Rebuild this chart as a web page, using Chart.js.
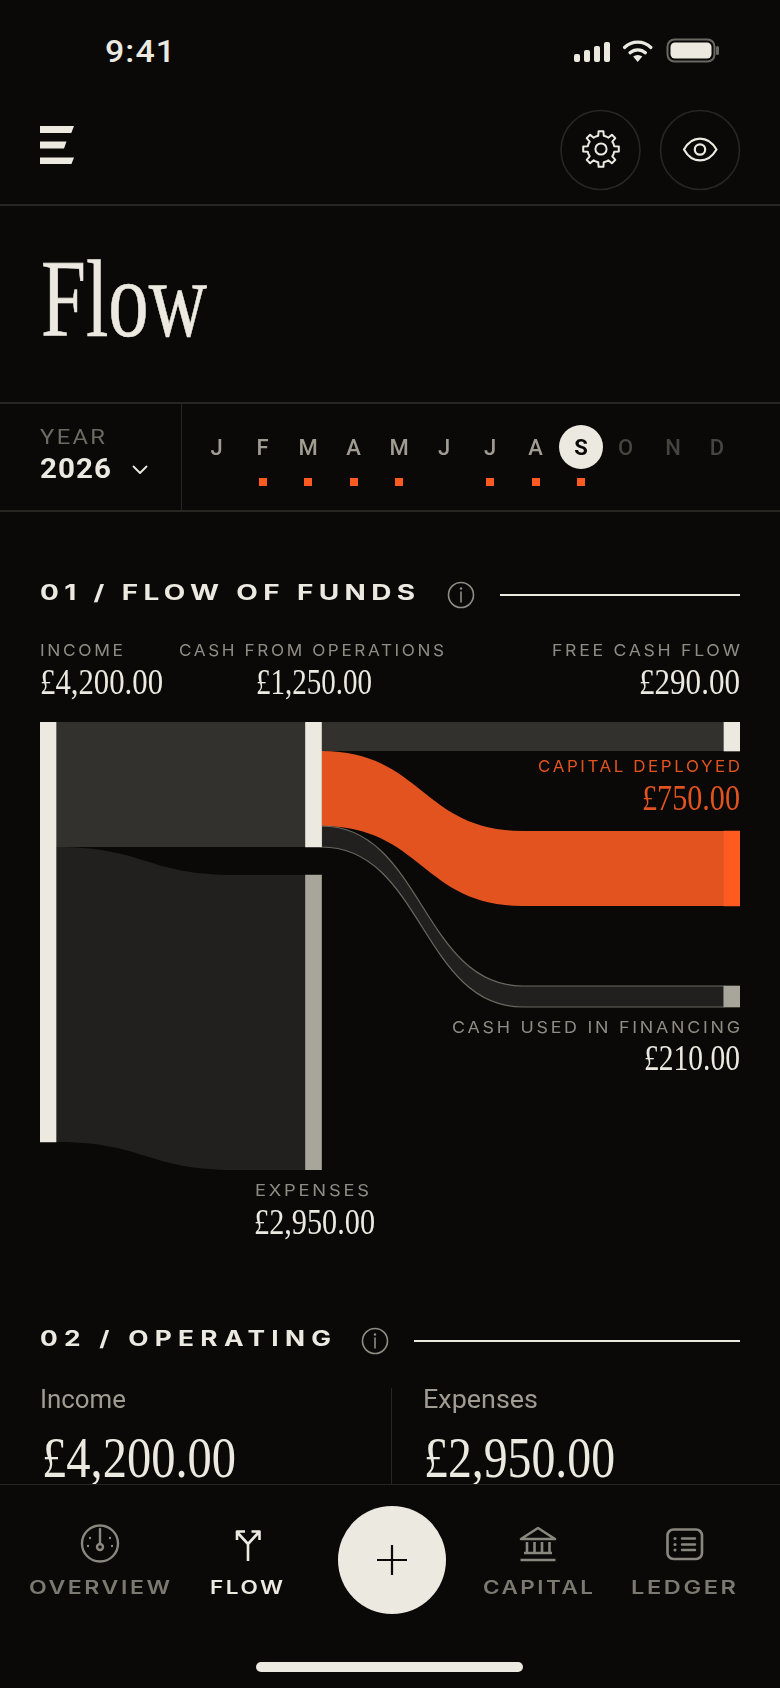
<!DOCTYPE html>
<html>
<head>
<meta charset="utf-8">
<title>Flow</title>
<script src="https://cdn.jsdelivr.net/npm/chart.js@4/dist/chart.umd.min.js"></script>
<style>
  html, body { margin: 0; padding: 0; background: #0a0908; }
  #app { position: relative; width: 780px; height: 1688px; overflow: hidden; background: #0a0908; }
  #app span { position: absolute; white-space: nowrap; line-height: 0; transform-origin: left center; }
  #app svg { position: absolute; left: 0; top: 0; }
  .rule { position: absolute; background: #272623; }
  #flowChartBox { position: absolute; left: 40px; top: 722px; width: 700px; height: 448px; }
  #navPanel { position: absolute; left: 0; top: 1484px; width: 780px; height: 204px; background: #0a0908; border-top: 1.5px solid #272623; box-sizing: border-box; }
</style>
</head>
<body>
<div id="app">
  <div id="flowChartBox"><canvas id="flowChart"></canvas></div>
</div>
<script>
// Data
const months = ['J', 'F', 'M', 'A', 'M', 'J', 'J', 'A', 'S', 'O', 'N', 'D'];
const monthsWithEntries = [1, 2, 3, 4, 6, 7, 8];
const selectedMonth = 8;
const flowNames = ['INCOME', 'CASH FROM OPERATIONS', 'EXPENSES', 'FREE CASH FLOW', 'CAPITAL DEPLOYED', 'CASH USED IN FINANCING'];
const flowValues = [4200, 1250, 2950, 290, 750, 210];
const navItems = ['OVERVIEW', 'FLOW', 'CAPITAL', 'LEDGER'];

const CREAM = '#ece9e0';
const ORANGE = '#ff5a1f';
const ORANGE_LINK = '#e2531f';
const STONE = '#a8a59a';
const LABEL = '#8f8c83';
const DARK_LINK = '#32312d';
const DARKER_LINK = '#21201e';

const app = document.getElementById('app');
const serif = '"Liberation Serif"';
const sans = 'Roboto';
const wide = 'Inter';

const money = v => '£' + v.toLocaleString('en-GB', { minimumFractionDigits: 2, maximumFractionDigits: 2 });

const measureCtx = document.createElement('canvas').getContext('2d');

// places a text by its baseline and squeezes it to the width seen in the picture
function put(text, o) {
  const el = document.createElement('span');
  const ls = o.ls || 0;
  const weight = o.weight || 400;
  el.textContent = text;
  el.style.font = `${weight} ${o.size}px ${o.font}`;
  el.style.lineHeight = '0';
  el.style.letterSpacing = ls + 'px';
  el.style.color = o.color || CREAM;
  if (o.stroke) el.style.webkitTextStroke = o.stroke + 'px ' + (o.color || CREAM);
  app.appendChild(el);
  measureCtx.font = `${weight} ${o.size}px ${o.font}`;
  const m = measureCtx.measureText('H');
  el.style.top = (o.base - (m.fontBoundingBoxAscent - m.fontBoundingBoxDescent) / 2) + 'px';
  const natural = el.getBoundingClientRect().width - ls;
  const width = o.w || natural;
  const align = o.align || 'left';
  const left = align === 'left' ? o.x : align === 'right' ? o.x - width : o.x - width / 2;
  el.style.left = left + 'px';
  el.style.transform = `scaleX(${width / natural})`;
  return el;
}

function rule(x, y, w, h, color) {
  const d = document.createElement('div');
  d.className = 'rule';
  d.style.cssText = `left:${x}px;top:${y}px;width:${w}px;height:${h}px;` + (color ? `background:${color};` : '');
  app.appendChild(d);
}

function svg(markup) {
  const holder = document.createElement('div');
  holder.innerHTML = `<svg width="780" height="1688" viewBox="0 0 780 1688" fill="none" stroke-linecap="round" stroke-linejoin="round">${markup}</svg>`;
  app.appendChild(holder.firstChild);
}

function gearPath(cx, cy, outer, inner, teeth) {
  const pts = [];
  const step = Math.PI * 2 / teeth;
  for (let i = 0; i < teeth; i++) {
    const a = i * step - Math.PI / 2;
    [[-0.5, inner], [-0.27, inner], [-0.17, outer], [0.17, outer], [0.27, inner]].forEach(p => {
      const ang = a + p[0] * step;
      pts.push((cx + Math.cos(ang) * p[1]).toFixed(1) + ' ' + (cy + Math.sin(ang) * p[1]).toFixed(1));
    });
  }
  return 'M' + pts.join('L') + 'Z';
}

function infoIcon(cx, cy) {
  return `<circle cx="${cx}" cy="${cy}" r="12.5" stroke="${LABEL}" stroke-width="1.6"/>
    <path d="M${cx} ${cy - 3}V${cy + 7}" stroke="${LABEL}" stroke-width="1.6"/>
    <circle cx="${cx}" cy="${cy - 6.5}" r="1.2" fill="${LABEL}"/>`;
}

// status bar
put('9:41', { x: 104.5, base: 62, size: 31, font: sans, weight: 500, w: 70, ls: 1 });
svg(`<g fill="${CREAM}">
    <rect x="574" y="54" width="6" height="8" rx="2"/>
    <rect x="584" y="50" width="6" height="12" rx="2"/>
    <rect x="594" y="46" width="6" height="16" rx="2"/>
    <rect x="604" y="42" width="6" height="20" rx="2"/>
    <path d="M637.7 62l-4.6-5.4a7 7 0 0 1 9.2 0z"/>
  </g>
  <path d="M624.5 47.5a19 19 0 0 1 26.4 0M630 52.8a11.5 11.5 0 0 1 15.4 0" stroke="${CREAM}" stroke-width="3.2"/>
  <rect x="667.5" y="39.5" width="47" height="22" rx="7" stroke="#6a6860" stroke-width="2"/>
  <rect x="670.5" y="42.5" width="41" height="16" rx="4.5" fill="${CREAM}"/>
  <rect x="716" y="46" width="3" height="9" rx="1.5" fill="#6a6860"/>`);

// top bar
svg(`<g fill="${CREAM}">
    <path d="M40 126H74L71.3 133H40Z"/>
    <path d="M40 141.5H66.5L64 148.5H40Z"/>
    <path d="M40 157.5H74L71.5 164H40Z"/>
  </g>
  <circle cx="600.5" cy="150" r="39.5" stroke="#272623" stroke-width="1.6"/>
  <circle cx="700" cy="150" r="39.5" stroke="#272623" stroke-width="1.6"/>
  <path d="${gearPath(601, 149, 18, 13.5, 8)}" stroke="${CREAM}" stroke-width="2"/>
  <circle cx="601" cy="149" r="5.6" stroke="${CREAM}" stroke-width="2"/>
  <path d="M684 149.5C692 135 708 135 716.5 149.5C708 164 692 164 684 149.5Z" stroke="${CREAM}" stroke-width="2.2"/>
  <circle cx="700" cy="149.5" r="5.2" stroke="${CREAM}" stroke-width="2.2"/>`);
rule(0, 204, 780, 1.5);

put('Flow', { x: 41, base: 336, size: 110, font: serif, w: 166, stroke: 0.6 });
rule(0, 402, 780, 1.5);

// year and month picker
rule(181, 403, 1.2, 107);
put('YEAR', { x: 40, base: 444, size: 20, font: sans, color: '#6d6a63', w: 65, ls: 2 });
put('2026', { x: 40, base: 478, size: 28, font: sans, weight: 700, w: 71, ls: 1 });
svg(`<path d="M133.5 466.5L140 473L146.5 466.5" stroke="${CREAM}" stroke-width="1.8"/>`);
rule(0, 510, 780, 1.5);

const monthCentres = [216.5, 262.5, 308, 353.5, 399, 444, 490, 535.5, 581, 625.5, 673, 717];
svg(`<circle cx="${monthCentres[selectedMonth]}" cy="447" r="22" fill="${CREAM}"/>`);
months.forEach((m, i) => {
  const color = i === selectedMonth ? '#0a0908' : i > selectedMonth ? '#45443f' : '#a09c92';
  put(m, { x: monthCentres[i], base: 455.5, size: 22, font: sans, weight: i === selectedMonth ? 700 : 500, color, align: 'center' });
});
monthsWithEntries.forEach(i => rule(monthCentres[i] - 4, 478, 8, 8, ORANGE));

// section 01
put('01 / FLOW OF FUNDS', { x: 40, base: 600, size: 21, font: wide, weight: 700, w: 375, ls: 4 });
svg(infoIcon(461, 595));
rule(500, 594, 240, 2, CREAM);

function flowLabel(i, o) {
  put(flowNames[i], { x: o.x, base: o.labelBase, size: 16.5, font: wide, color: o.color || LABEL, w: o.labelW, align: o.align, ls: 2.5 });
  put(money(flowValues[i]), { x: o.valueX === undefined ? o.x : o.valueX, base: o.valueBase, size: 36, font: serif, color: o.valueColor || CREAM, w: o.valueW, align: o.align });
}
flowLabel(0, { x: 40, labelBase: 656, valueBase: 693.5, labelW: 83, valueW: 123 });
flowLabel(1, { x: 311.5, valueX: 314, labelBase: 656, valueBase: 693.5, labelW: 265, valueW: 116, align: 'center' });
flowLabel(3, { x: 740, labelBase: 656, valueBase: 693.5, labelW: 188, valueW: 101, align: 'right' });
flowLabel(4, { x: 740, labelBase: 772, valueBase: 809.5, labelW: 202, valueW: 98, align: 'right', color: ORANGE_LINK, valueColor: ORANGE_LINK });
flowLabel(5, { x: 740, labelBase: 1033, valueBase: 1069.5, labelW: 288, valueW: 96, align: 'right' });
flowLabel(2, { x: 312, valueX: 314.5, labelBase: 1196, valueBase: 1233.5, labelW: 114, valueW: 121, align: 'center' });

// section 02
put('02 / OPERATING', { x: 40, base: 1346, size: 21, font: wide, weight: 700, w: 291, ls: 5 });
svg(infoIcon(375, 1341));
rule(414, 1340, 326, 2, CREAM);
put('Income', { x: 40, base: 1408, size: 26, font: sans, color: '#a09c92', w: 86 });
put('Expenses', { x: 423, base: 1408, size: 26, font: sans, color: '#a09c92', w: 115 });
rule(390.5, 1388, 1.2, 96);
put(money(flowValues[0]), { x: 41.5, base: 1477, size: 58, font: serif, w: 194 });
put(money(flowValues[2]), { x: 424, base: 1477, size: 58, font: serif, w: 191 });

// bottom nav
const panel = document.createElement('div');
panel.id = 'navPanel';
app.appendChild(panel);
const navCentres = [99, 246, 538, 683.5];
const navWidths = [141, 73, 110, 105];
navItems.forEach((label, i) => {
  put(label, { x: navCentres[i], base: 1594, size: 18, font: wide, weight: 600, color: label === 'FLOW' ? CREAM : '#7c7970', w: navWidths[i], align: 'center', ls: 2 });
});
const navGrey = '#8a877e';
svg(`<circle cx="392" cy="1560" r="54" fill="${CREAM}"/>
  <path d="M377 1560H407M392 1545V1575" stroke="#0a0908" stroke-width="2.2" stroke-linecap="butt"/>
  <circle cx="100" cy="1543.5" r="18" stroke="${navGrey}" stroke-width="2.4"/>
  <path d="M100 1529V1544" stroke="${navGrey}" stroke-width="2.4"/>
  <circle cx="100" cy="1547" r="3" stroke="${navGrey}" stroke-width="2.4"/>
  <g fill="${navGrey}"><circle cx="90" cy="1538" r="1.2"/><circle cx="110" cy="1538" r="1.2"/><circle cx="88" cy="1546" r="1.2"/><circle cx="112" cy="1546" r="1.2"/></g>
  <path d="M248 1561V1544L237 1532M248 1544L259 1532M237 1540V1531.5H245M259.5 1540V1531.5H251.5" stroke="${CREAM}" stroke-width="2.6" stroke-linecap="butt"/>
  <path d="M521 1539L538 1528L555 1539Z" stroke="${navGrey}" stroke-width="2.6"/>
  <path d="M527 1542V1552M534.5 1542V1552M542 1542V1552M549.5 1542V1552" stroke="${navGrey}" stroke-width="2.6" stroke-linecap="butt"/>
  <path d="M524 1553H552M520.5 1560H555.5" stroke="${navGrey}" stroke-width="2.4" stroke-linecap="butt"/>
  <rect x="667.5" y="1529.5" width="34.5" height="29.5" rx="6" stroke="${navGrey}" stroke-width="2.6"/>
  <path d="M682 1538.5H695M682 1544.5H695M682 1550H695" stroke="${navGrey}" stroke-width="2.4"/>
  <g fill="${navGrey}"><circle cx="675" cy="1538.5" r="1.5"/><circle cx="675" cy="1544.5" r="1.5"/><circle cx="675" cy="1550" r="1.5"/></g>`);
rule(256, 1662, 267, 10, CREAM);
app.lastChild.style.borderRadius = '5px';

// Sankey layout, in chart units: x runs in px across the plot, y in pounds from the top
const [income, operations, expenses, freeCash, capital, financing] = flowValues;
const columns = { left: 8, middle: 273.5, right: 692 };
const NODE_WIDTH = 16;
const expensesTop = operations + 280;
const capitalTop = 1090;
const financingTop = 2640;
const Y_MAX = expensesTop + expenses;

const nodes = [
  { x: columns.left, from: 0, value: income, color: CREAM },
  { x: columns.middle, from: 0, value: operations, color: CREAM },
  { x: columns.middle, from: expensesTop, value: expenses, color: STONE },
  { x: columns.right, from: 0, value: freeCash, color: CREAM },
  { x: columns.right, from: capitalTop, value: capital, color: ORANGE },
  { x: columns.right, from: financingTop, value: financing, color: STONE }
];

const links = [
  { a: columns.left, b: columns.middle, y0: 0, y1: 0, value: operations, bend: 0.7, color: DARK_LINK },
  { a: columns.left, b: columns.middle, y0: operations, y1: expensesTop, value: expenses, bend: 0.72, color: DARKER_LINK },
  { a: columns.middle, b: columns.right, y0: 0, y1: 0, value: freeCash, bend: 0.5, color: DARK_LINK },
  { a: columns.middle, b: columns.right, y0: freeCash, y1: capitalTop, value: capital, bend: 0.5, color: ORANGE_LINK },
  { a: columns.middle, b: columns.right, y0: freeCash + capital, y1: financingTop, value: financing, bend: 0.5, color: DARKER_LINK, edge: '#6a6860' }
];

// ribbons between the nodes, placed with the chart's own scales
const ribbonPlugin = {
  id: 'ribbons',
  beforeDatasetsDraw(chart) {
    const { ctx, scales: { x, y } } = chart;
    links.forEach(l => {
      const x0 = x.getPixelForValue(l.a + NODE_WIDTH / 2);
      const x2 = x.getPixelForValue(l.b - NODE_WIDTH / 2);
      const x1 = x0 + (x2 - x0) * l.bend;
      const xm = (x0 + x1) / 2;
      const t0 = y.getPixelForValue(l.y0);
      const t1 = y.getPixelForValue(l.y1);
      const b0 = y.getPixelForValue(l.y0 + l.value);
      const b1 = y.getPixelForValue(l.y1 + l.value);
      ctx.save();
      ctx.beginPath();
      ctx.moveTo(x0, t0);
      ctx.bezierCurveTo(xm, t0, xm, t1, x1, t1);
      ctx.lineTo(x2, t1);
      ctx.lineTo(x2, b1);
      ctx.lineTo(x1, b1);
      ctx.bezierCurveTo(xm, b1, xm, b0, x0, b0);
      ctx.closePath();
      ctx.fillStyle = l.color;
      ctx.fill();
      if (l.edge) {
        ctx.strokeStyle = l.edge;
        ctx.lineWidth = 1.2;
        ctx.stroke();
      }
      ctx.restore();
    });
  }
};

new Chart(document.getElementById('flowChart'), {
  type: 'bar',
  plugins: [ribbonPlugin],
  data: {
    datasets: nodes.map((n, i) => ({
      label: flowNames[i],
      data: [{ x: n.x, y: [n.from, n.from + n.value] }],
      backgroundColor: n.color,
      barThickness: NODE_WIDTH,
      grouped: false,
      borderSkipped: false
    }))
  },
  options: {
    responsive: true,
    maintainAspectRatio: false,
    animation: false,
    layout: { padding: 0 },
    plugins: { legend: { display: false }, tooltip: { enabled: false } },
    scales: {
      x: { type: 'linear', min: 0, max: 700, offset: false, display: false },
      y: { type: 'linear', min: 0, max: Y_MAX, reverse: true, display: false }
    }
  }
});
</script>
</body>
</html>
